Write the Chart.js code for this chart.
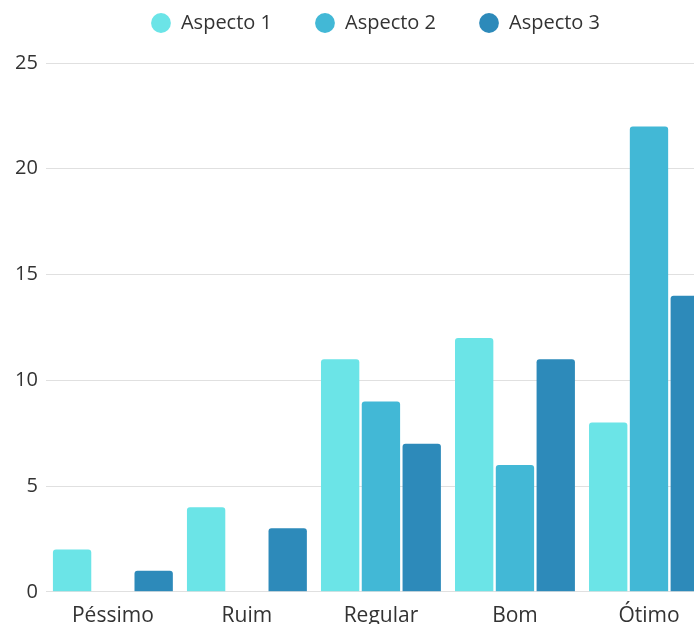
<!DOCTYPE html>
<html>
<head>
<meta charset="utf-8">
<script src="https://cdn.jsdelivr.net/npm/chart.js@4.4.1/dist/chart.umd.min.js"></script>
<style>
  html, body { margin: 0; padding: 0; overflow: hidden; background: #fff; }
  #wrap { width: 724px; height: 641px; }
</style>
</head>
<body>
<div id="wrap"><canvas id="chart" width="724" height="641"></canvas></div>
<script>
const CATEGORIES = ['Péssimo', 'Ruim', 'Regular', 'Bom', 'Ótimo'];
const ASPECTO_1 = [2, 4, 11, 12, 8];
const ASPECTO_2 = [0, 0, 9, 6, 22];
const ASPECTO_3 = [1, 3, 7, 11, 14];
const SERIES_NAMES = ['Aspecto 1', 'Aspecto 2', 'Aspecto 3'];
const COLORS = ['#6be4e7', '#42b8d6', '#2d8aba'];

Chart.defaults.font.family = '"Open Sans", sans-serif';
Chart.defaults.color = '#333';

// extra room under the legend, and nudge it right to where the original sits
const legendTweak = {
  id: 'legendTweak',
  beforeInit(chart) {
    const fit = chart.legend.fit;
    chart.legend.fit = function () { fit.call(this); this.height += 20; };
  },
  afterLayout(chart) {
    chart.legend.left += 14;
    chart.legend.right += 14;
  }
};

const ctx = document.getElementById('chart').getContext('2d');
new Chart(ctx, {
  type: 'bar',
  data: {
    labels: CATEGORIES,
    datasets: [ASPECTO_1, ASPECTO_2, ASPECTO_3].map((d, i) => ({
      label: SERIES_NAMES[i],
      data: d,
      backgroundColor: COLORS[i],
      borderRadius: 3,
      borderSkipped: 'bottom',
      barPercentage: 0.94,
      categoryPercentage: 0.913
    }))
  },
  options: {
    responsive: false,
    animation: false,
    devicePixelRatio: 1,
    layout: { padding: { left: 7, right: 8, top: -30, bottom: 0 } },
    plugins: {
      legend: {
        position: 'top',
        labels: {
          usePointStyle: true,
          pointStyle: 'circle',
          boxWidth: 20,
          boxHeight: 14,
          padding: 43,
          font: { size: 20 },
          color: '#333'
        }
      },
      tooltip: { enabled: false }
    },
    scales: {
      x: {
        grid: { display: false, drawTicks: false },
        border: { display: false },
        ticks: { font: { size: 21 }, padding: 12, color: '#333' }
      },
      y: {
        min: 0,
        max: 25,
        ticks: { stepSize: 5, font: { size: 20 }, padding: 8, color: '#333' },
        grid: { color: '#e0e0e0', drawTicks: false },
        border: { display: false }
      }
    }
  },
  plugins: [legendTweak]
});
</script>
</body>
</html>
